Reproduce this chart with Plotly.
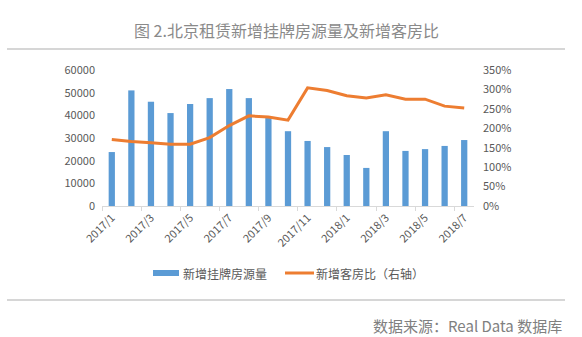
import plotly.graph_objects as go

# Monthly data, Beijing rental market
months = ["2017/1", "2017/2", "2017/3", "2017/4", "2017/5", "2017/6", "2017/7",
          "2017/8", "2017/9", "2017/10", "2017/11", "2017/12", "2018/1", "2018/2",
          "2018/3", "2018/4", "2018/5", "2018/6", "2018/7"]
new_listings = [23800, 51000, 46000, 41000, 45000, 47600, 51600, 47600, 38800,
                33000, 28700, 26000, 22500, 16800, 33000, 24300, 25100, 26500, 29100]
tenant_ratio = [171, 166, 163, 159, 159, 176, 207, 232, 229, 221, 304, 297, 284,
                278, 286, 275, 275, 257, 252]  # percent

left_ticks = [0, 10000, 20000, 30000, 40000, 50000, 60000]
right_ticks = [0, 50, 100, 150, 200, 250, 300, 350]

BAR_NAME = "新增挂牌房源量"
LINE_NAME = "新增客房比（右轴）"
BAR_COLOR = "#5b9bd5"
LINE_COLOR = "#ed7d31"

FONT = "Noto Sans CJK SC"
TXT = "#595959"

# plot area is 372 x 136 px; helpers convert pixel offsets to paper units
PW, PH = 372, 136
def px(v):
    return v / PW
def py(v):
    return v / PH

fig = go.Figure()
fig.add_trace(go.Bar(
    x=months, y=new_listings, name=BAR_NAME,
    marker=dict(color=BAR_COLOR, line=dict(width=0)),
))
fig.add_trace(go.Scatter(
    x=months, y=tenant_ratio, name=LINE_NAME, yaxis="y2",
    mode="lines", line=dict(color=LINE_COLOR, width=3),
))

leg_y = py(-67)
shapes = [
    # header and footer rules
    dict(type="line", xref="paper", yref="paper", x0=px(-95), x1=px(463),
         y0=1 + py(21), y1=1 + py(21), line=dict(color="#c8c8c8", width=1.5)),
    dict(type="line", xref="paper", yref="paper", x0=px(-95), x1=px(463),
         y0=py(-94), y1=py(-94), line=dict(color="#c8c8c8", width=1.5)),
    # legend swatches
    dict(type="rect", xref="paper", yref="paper", x0=px(51), x1=px(77),
         y0=leg_y - py(3), y1=leg_y + py(3), fillcolor=BAR_COLOR, line=dict(width=0)),
    dict(type="line", xref="paper", yref="paper", x0=px(183), x1=px(212),
         y0=leg_y, y1=leg_y, line=dict(color=LINE_COLOR, width=3)),
]

fig.update_layout(
    width=582, height=337,
    margin=dict(l=102, r=108, t=70, b=131),
    paper_bgcolor="white", plot_bgcolor="white",
    bargap=0.68,
    showlegend=False,
    font=dict(family=FONT, color=TXT),
    xaxis=dict(
        type="category", tickmode="linear", tick0=0, dtick=2,
        tickangle=-45, tickson="boundaries", ticks="outside", ticklen=4,
        tickcolor="#d9d9d9", showline=True, linecolor="#d9d9d9", linewidth=1,
        showgrid=False, tickfont=dict(family=FONT, size=11, color=TXT),
    ),
    yaxis=dict(
        range=[0, 60000], tickvals=left_ticks, ticktext=[str(v) for v in left_ticks],
        showgrid=False, zeroline=False, showline=False,
        tickfont=dict(family=FONT, size=11, color=TXT), ticklabelstandoff=6,
    ),
    yaxis2=dict(
        range=[0, 350], tickvals=right_ticks, ticktext=[f"{v}%" for v in right_ticks],
        overlaying="y", side="right", showgrid=False, zeroline=False, showline=False,
        tickfont=dict(family=FONT, size=11, color=TXT), ticklabelstandoff=8,
    ),
    shapes=shapes,
    annotations=[
        dict(text="图 2.北京租赁新增挂牌房源量及新增客房比", xref="paper", yref="paper",
             x=px(184), y=1 + py(40), xanchor="center", yanchor="middle",
             showarrow=False, font=dict(family=FONT, size=16, color="#8a8a8a")),
        dict(text="数据来源：Real Data 数据库", xref="paper", yref="paper",
             x=px(462), y=py(-119), xanchor="right", yanchor="middle",
             showarrow=False, font=dict(family=FONT, size=15, color="#808080")),
        dict(text=BAR_NAME, xref="paper", yref="paper",
             x=px(79), y=leg_y, xanchor="left", yanchor="middle",
             showarrow=False, font=dict(family=FONT, size=12, color=TXT)),
        dict(text=LINE_NAME, xref="paper", yref="paper",
             x=px(212), y=leg_y, xanchor="left", yanchor="middle",
             showarrow=False, font=dict(family=FONT, size=12, color=TXT)),
    ],
)

fig.write_html("out.html")
